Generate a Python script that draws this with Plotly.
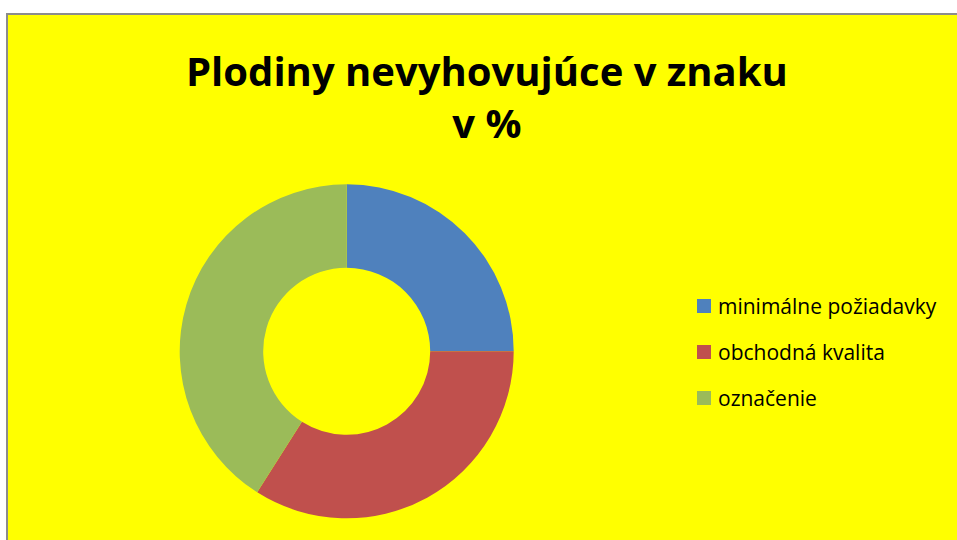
import plotly.graph_objects as go

labels = ["minimálne požiadavky", "obchodná kvalita", "označenie"]
values = [25, 34, 41]
colors = ["#4F81BD", "#C0504D", "#9BBB59"]
title_text = "Plodiny nevyhovujúce v znaku<br>v %"

W, H = 957, 540

def px(x):
    return x / W

def py(y):
    return 1 - y / H

fig = go.Figure()
cx, cy, r = 346.7, 351.3, 167
fig.add_trace(go.Pie(
    labels=labels, values=values, hole=0.5, sort=False,
    direction="clockwise", rotation=0,
    marker=dict(colors=colors, line=dict(width=0)),
    textinfo="none", hoverinfo="label+percent",
    domain=dict(x=[px(cx - r), px(cx + r)], y=[py(cy + r), py(cy - r)]),
    showlegend=False,
))

shapes = [dict(type="rect", xref="paper", yref="paper", layer="below",
               x0=px(7), x1=1.2, y0=-0.2, y1=py(14),
               fillcolor="#FFFF00", line=dict(color="#8C8C8C", width=2))]
annotations = [dict(text="<b>" + title_text + "</b>", x=px(487), y=py(97),
                    xref="paper", yref="paper", showarrow=False,
                    font=dict(family="Open Sans", size=40, color="#000000"),
                    xanchor="center", yanchor="middle")]

leg_y = [306, 352, 398]
for lab, col, yy in zip(labels, colors, leg_y):
    shapes.append(dict(type="rect", xref="paper", yref="paper",
                       x0=px(697), x1=px(711), y0=py(yy + 7), y1=py(yy - 7),
                       fillcolor=col, line=dict(width=0)))
    annotations.append(dict(text=lab, x=px(716), y=py(yy), xref="paper", yref="paper",
                            showarrow=False, xanchor="left", yanchor="middle",
                            font=dict(family="Open Sans", size=21, color="#000000")))

fig.update_layout(width=W, height=H, margin=dict(l=0, r=0, t=0, b=0),
                  paper_bgcolor="#FFFFFF", plot_bgcolor="#FFFFFF",
                  shapes=shapes, annotations=annotations, showlegend=False)
fig.write_html("out.html", config={"displayModeBar": False},
               post_script="document.body.style.margin='0';document.body.style.overflow='hidden';")
